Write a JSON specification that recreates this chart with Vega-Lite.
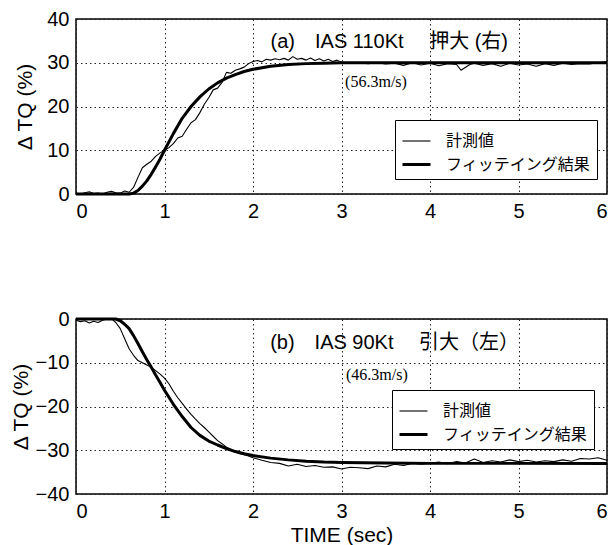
{
  "$schema": "https://vega.github.io/schema/vega-lite/v6.json",
  "padding": {"top": 8, "left": 9, "right": 4, "bottom": 0},
  "background": "white",
  "config": {
    "view": {"stroke": "black", "strokeWidth": 1.5},
    "axis": {
      "labelFont": "Liberation Sans", "labelFontSize": 20, "labelColor": "black",
      "titleFont": "Liberation Sans", "titleFontSize": 21, "titleColor": "black", "titleFontWeight": "normal",
      "ticks": false, "domain": false, "grid": true, "gridColor": "#222", "gridDash": [1.5, 3], "gridWidth": 1, "gridOpacity": 1,
      "labelPadding": 7, "format": "d"
    },
    "legend": {
      "orient": "none", "title": null, "symbolType": "stroke", "symbolStrokeColor": "black", "symbolSize": 784,
      "labelFont": "Noto Sans CJK JP", "labelFontSize": 16, "labelColor": "black", "labelOffset": 14,
      "strokeColor": "black", "fillColor": "white", "padding": 6, "rowPadding": -6
    }
  },
  "datasets": {
    "a": [
      {"t": 0.0, "v": 0.2, "s": "計測値"}, {"t": 0.05, "v": 0.0, "s": "計測値"}, {"t": 0.1, "v": 0.3, "s": "計測値"}, {"t": 0.15, "v": 0.5, "s": "計測値"},
      {"t": 0.2, "v": 0.1, "s": "計測値"}, {"t": 0.25, "v": 0.2, "s": "計測値"}, {"t": 0.3, "v": 0.0, "s": "計測値"}, {"t": 0.35, "v": 0.4, "s": "計測値"},
      {"t": 0.4, "v": 0.6, "s": "計測値"}, {"t": 0.45, "v": 0.3, "s": "計測値"}, {"t": 0.5, "v": 0.2, "s": "計測値"}, {"t": 0.55, "v": 0.7, "s": "計測値"},
      {"t": 0.6, "v": 0.4, "s": "計測値"}, {"t": 0.65, "v": 1.5, "s": "計測値"}, {"t": 0.7, "v": 3.8, "s": "計測値"}, {"t": 0.75, "v": 6.0, "s": "計測値"},
      {"t": 0.8, "v": 6.8, "s": "計測値"}, {"t": 0.85, "v": 7.5, "s": "計測値"}, {"t": 0.9, "v": 8.6, "s": "計測値"}, {"t": 0.95, "v": 9.4, "s": "計測値"},
      {"t": 1.0, "v": 10.0, "s": "計測値"}, {"t": 1.05, "v": 10.6, "s": "計測値"}, {"t": 1.1, "v": 11.5, "s": "計測値"}, {"t": 1.15, "v": 12.8, "s": "計測値"},
      {"t": 1.2, "v": 13.2, "s": "計測値"}, {"t": 1.25, "v": 14.8, "s": "計測値"}, {"t": 1.3, "v": 16.3, "s": "計測値"}, {"t": 1.35, "v": 17.0, "s": "計測値"},
      {"t": 1.4, "v": 18.6, "s": "計測値"}, {"t": 1.45, "v": 20.5, "s": "計測値"}, {"t": 1.5, "v": 22.0, "s": "計測値"}, {"t": 1.55, "v": 23.8, "s": "計測値"},
      {"t": 1.6, "v": 24.2, "s": "計測値"}, {"t": 1.65, "v": 25.5, "s": "計測値"}, {"t": 1.7, "v": 27.8, "s": "計測値"}, {"t": 1.75, "v": 27.6, "s": "計測値"},
      {"t": 1.8, "v": 28.3, "s": "計測値"}, {"t": 1.85, "v": 28.6, "s": "計測値"}, {"t": 1.9, "v": 29.0, "s": "計測値"}, {"t": 1.95, "v": 29.8, "s": "計測値"},
      {"t": 2.0, "v": 30.3, "s": "計測値"}, {"t": 2.05, "v": 30.5, "s": "計測値"}, {"t": 2.1, "v": 30.2, "s": "計測値"}, {"t": 2.15, "v": 30.8, "s": "計測値"},
      {"t": 2.2, "v": 30.6, "s": "計測値"}, {"t": 2.25, "v": 30.9, "s": "計測値"}, {"t": 2.3, "v": 30.7, "s": "計測値"}, {"t": 2.35, "v": 31.0, "s": "計測値"},
      {"t": 2.4, "v": 30.6, "s": "計測値"}, {"t": 2.45, "v": 31.4, "s": "計測値"}, {"t": 2.5, "v": 30.8, "s": "計測値"}, {"t": 2.55, "v": 31.0, "s": "計測値"},
      {"t": 2.6, "v": 30.6, "s": "計測値"}, {"t": 2.65, "v": 31.1, "s": "計測値"}, {"t": 2.7, "v": 30.5, "s": "計測値"}, {"t": 2.75, "v": 30.9, "s": "計測値"},
      {"t": 2.8, "v": 30.4, "s": "計測値"}, {"t": 2.85, "v": 30.8, "s": "計測値"}, {"t": 2.9, "v": 30.3, "s": "計測値"}, {"t": 2.95, "v": 30.6, "s": "計測値"},
      {"t": 3.0, "v": 30.1, "s": "計測値"}, {"t": 3.1, "v": 29.9, "s": "計測値"}, {"t": 3.2, "v": 30.0, "s": "計測値"}, {"t": 3.3, "v": 29.8, "s": "計測値"},
      {"t": 3.4, "v": 30.0, "s": "計測値"}, {"t": 3.5, "v": 29.7, "s": "計測値"}, {"t": 3.6, "v": 29.9, "s": "計測値"}, {"t": 3.7, "v": 29.4, "s": "計測値"},
      {"t": 3.8, "v": 30.0, "s": "計測値"}, {"t": 3.9, "v": 29.5, "s": "計測値"}, {"t": 4.0, "v": 29.9, "s": "計測値"}, {"t": 4.1, "v": 29.3, "s": "計測値"},
      {"t": 4.2, "v": 29.8, "s": "計測値"}, {"t": 4.3, "v": 29.6, "s": "計測値"}, {"t": 4.35, "v": 28.3, "s": "計測値"}, {"t": 4.45, "v": 29.6, "s": "計測値"},
      {"t": 4.5, "v": 29.9, "s": "計測値"}, {"t": 4.6, "v": 29.4, "s": "計測値"}, {"t": 4.7, "v": 29.8, "s": "計測値"}, {"t": 4.8, "v": 29.2, "s": "計測値"},
      {"t": 4.9, "v": 29.9, "s": "計測値"}, {"t": 5.0, "v": 29.5, "s": "計測値"}, {"t": 5.1, "v": 29.7, "s": "計測値"}, {"t": 5.2, "v": 29.2, "s": "計測値"},
      {"t": 5.3, "v": 29.8, "s": "計測値"}, {"t": 5.4, "v": 29.4, "s": "計測値"}, {"t": 5.5, "v": 29.9, "s": "計測値"}, {"t": 5.6, "v": 29.6, "s": "計測値"},
      {"t": 5.7, "v": 29.8, "s": "計測値"}, {"t": 5.8, "v": 29.7, "s": "計測値"}, {"t": 5.9, "v": 30.0, "s": "計測値"}, {"t": 6.0, "v": 30.2, "s": "計測値"},
      {"t": 0.0, "v": 0.0, "s": "フィッテイング結果"}, {"t": 0.6, "v": 0.0, "s": "フィッテイング結果"}, {"t": 0.65, "v": 0.2, "s": "フィッテイング結果"},
      {"t": 0.7, "v": 0.8, "s": "フィッテイング結果"}, {"t": 0.75, "v": 1.8, "s": "フィッテイング結果"}, {"t": 0.8, "v": 3.0, "s": "フィッテイング結果"},
      {"t": 0.85, "v": 4.5, "s": "フィッテイング結果"}, {"t": 0.9, "v": 6.2, "s": "フィッテイング結果"}, {"t": 0.95, "v": 8.0, "s": "フィッテイング結果"},
      {"t": 1.0, "v": 10.0, "s": "フィッテイング結果"}, {"t": 1.1, "v": 13.8, "s": "フィッテイング結果"}, {"t": 1.2, "v": 17.3, "s": "フィッテイング結果"},
      {"t": 1.3, "v": 20.0, "s": "フィッテイング結果"}, {"t": 1.4, "v": 22.2, "s": "フィッテイング結果"}, {"t": 1.5, "v": 24.0, "s": "フィッテイング結果"},
      {"t": 1.6, "v": 25.4, "s": "フィッテイング結果"}, {"t": 1.7, "v": 26.5, "s": "フィッテイング結果"}, {"t": 1.8, "v": 27.3, "s": "フィッテイング結果"},
      {"t": 1.9, "v": 28.0, "s": "フィッテイング結果"}, {"t": 2.0, "v": 28.5, "s": "フィッテイング結果"}, {"t": 2.2, "v": 29.2, "s": "フィッテイング結果"},
      {"t": 2.4, "v": 29.6, "s": "フィッテイング結果"}, {"t": 2.6, "v": 29.8, "s": "フィッテイング結果"}, {"t": 2.8, "v": 29.9, "s": "フィッテイング結果"},
      {"t": 3.0, "v": 30.0, "s": "フィッテイング結果"}, {"t": 4.0, "v": 30.0, "s": "フィッテイング結果"}, {"t": 5.0, "v": 30.0, "s": "フィッテイング結果"},
      {"t": 6.0, "v": 30.0, "s": "フィッテイング結果"}
    ],
    "b": [
      {"t": 0.0, "v": -0.3, "s": "計測値"}, {"t": 0.05, "v": -0.6, "s": "計測値"}, {"t": 0.1, "v": -0.4, "s": "計測値"}, {"t": 0.15, "v": -0.9, "s": "計測値"},
      {"t": 0.2, "v": -0.5, "s": "計測値"}, {"t": 0.25, "v": -0.8, "s": "計測値"}, {"t": 0.3, "v": -0.3, "s": "計測値"}, {"t": 0.35, "v": 0.0, "s": "計測値"},
      {"t": 0.4, "v": 0.1, "s": "計測値"}, {"t": 0.45, "v": -0.8, "s": "計測値"}, {"t": 0.5, "v": -2.2, "s": "計測値"}, {"t": 0.55, "v": -4.5, "s": "計測値"},
      {"t": 0.6, "v": -6.8, "s": "計測値"}, {"t": 0.65, "v": -8.3, "s": "計測値"}, {"t": 0.7, "v": -9.5, "s": "計測値"}, {"t": 0.75, "v": -10.0, "s": "計測値"},
      {"t": 0.8, "v": -10.5, "s": "計測値"}, {"t": 0.85, "v": -11.0, "s": "計測値"}, {"t": 0.9, "v": -11.8, "s": "計測値"}, {"t": 0.95, "v": -12.6, "s": "計測値"},
      {"t": 1.0, "v": -13.5, "s": "計測値"}, {"t": 1.05, "v": -14.8, "s": "計測値"}, {"t": 1.1, "v": -16.5, "s": "計測値"}, {"t": 1.15, "v": -18.0, "s": "計測値"},
      {"t": 1.2, "v": -19.3, "s": "計測値"}, {"t": 1.25, "v": -20.6, "s": "計測値"}, {"t": 1.3, "v": -21.8, "s": "計測値"}, {"t": 1.35, "v": -22.9, "s": "計測値"},
      {"t": 1.4, "v": -23.9, "s": "計測値"}, {"t": 1.45, "v": -24.8, "s": "計測値"}, {"t": 1.5, "v": -25.8, "s": "計測値"}, {"t": 1.55, "v": -26.8, "s": "計測値"},
      {"t": 1.6, "v": -27.8, "s": "計測値"}, {"t": 1.65, "v": -28.5, "s": "計測値"}, {"t": 1.7, "v": -29.3, "s": "計測値"}, {"t": 1.75, "v": -29.9, "s": "計測値"},
      {"t": 1.8, "v": -30.3, "s": "計測値"}, {"t": 1.85, "v": -30.8, "s": "計測値"}, {"t": 1.9, "v": -31.0, "s": "計測値"}, {"t": 1.95, "v": -31.3, "s": "計測値"},
      {"t": 2.0, "v": -31.7, "s": "計測値"}, {"t": 2.1, "v": -32.3, "s": "計測値"}, {"t": 2.2, "v": -32.8, "s": "計測値"}, {"t": 2.3, "v": -33.0, "s": "計測値"},
      {"t": 2.4, "v": -33.6, "s": "計測値"}, {"t": 2.5, "v": -33.2, "s": "計測値"}, {"t": 2.6, "v": -33.7, "s": "計測値"}, {"t": 2.7, "v": -33.5, "s": "計測値"},
      {"t": 2.8, "v": -33.9, "s": "計測値"}, {"t": 2.9, "v": -33.8, "s": "計測値"}, {"t": 3.0, "v": -34.3, "s": "計測値"}, {"t": 3.1, "v": -33.9, "s": "計測値"},
      {"t": 3.2, "v": -34.0, "s": "計測値"}, {"t": 3.3, "v": -34.2, "s": "計測値"}, {"t": 3.4, "v": -33.6, "s": "計測値"}, {"t": 3.5, "v": -33.8, "s": "計測値"},
      {"t": 3.6, "v": -33.2, "s": "計測値"}, {"t": 3.7, "v": -33.5, "s": "計測値"}, {"t": 3.8, "v": -33.0, "s": "計測値"}, {"t": 3.9, "v": -33.2, "s": "計測値"},
      {"t": 4.0, "v": -33.0, "s": "計測値"}, {"t": 4.1, "v": -32.7, "s": "計測値"}, {"t": 4.2, "v": -33.1, "s": "計測値"}, {"t": 4.3, "v": -32.6, "s": "計測値"},
      {"t": 4.4, "v": -32.9, "s": "計測値"}, {"t": 4.5, "v": -32.0, "s": "計測値"}, {"t": 4.6, "v": -32.8, "s": "計測値"}, {"t": 4.7, "v": -32.4, "s": "計測値"},
      {"t": 4.8, "v": -32.7, "s": "計測値"}, {"t": 4.9, "v": -32.2, "s": "計測値"}, {"t": 5.0, "v": -32.6, "s": "計測値"}, {"t": 5.1, "v": -32.3, "s": "計測値"},
      {"t": 5.2, "v": -32.7, "s": "計測値"}, {"t": 5.3, "v": -32.4, "s": "計測値"}, {"t": 5.4, "v": -32.6, "s": "計測値"}, {"t": 5.5, "v": -32.2, "s": "計測値"},
      {"t": 5.6, "v": -32.5, "s": "計測値"}, {"t": 5.7, "v": -31.9, "s": "計測値"}, {"t": 5.8, "v": -32.0, "s": "計測値"}, {"t": 5.9, "v": -31.7, "s": "計測値"},
      {"t": 6.0, "v": -32.3, "s": "計測値"},
      {"t": 0.0, "v": 0.0, "s": "フィッテイング結果"}, {"t": 0.45, "v": 0.0, "s": "フィッテイング結果"}, {"t": 0.5, "v": -0.4, "s": "フィッテイング結果"},
      {"t": 0.55, "v": -1.2, "s": "フィッテイング結果"}, {"t": 0.6, "v": -2.2, "s": "フィッテイング結果"}, {"t": 0.65, "v": -3.8, "s": "フィッテイング結果"},
      {"t": 0.7, "v": -5.6, "s": "フィッテイング結果"}, {"t": 0.75, "v": -7.5, "s": "フィッテイング結果"}, {"t": 0.8, "v": -9.3, "s": "フィッテイング結果"},
      {"t": 0.85, "v": -11.0, "s": "フィッテイング結果"}, {"t": 0.9, "v": -12.8, "s": "フィッテイング結果"}, {"t": 0.95, "v": -14.5, "s": "フィッテイング結果"},
      {"t": 1.0, "v": -16.3, "s": "フィッテイング結果"}, {"t": 1.1, "v": -19.5, "s": "フィッテイング結果"}, {"t": 1.2, "v": -22.3, "s": "フィッテイング結果"},
      {"t": 1.3, "v": -24.8, "s": "フィッテイング結果"}, {"t": 1.4, "v": -26.6, "s": "フィッテイング結果"}, {"t": 1.5, "v": -27.9, "s": "フィッテイング結果"},
      {"t": 1.6, "v": -28.8, "s": "フィッテイング結果"}, {"t": 1.7, "v": -29.6, "s": "フィッテイング結果"}, {"t": 1.8, "v": -30.3, "s": "フィッテイング結果"},
      {"t": 1.9, "v": -30.8, "s": "フィッテイング結果"}, {"t": 2.0, "v": -31.2, "s": "フィッテイング結果"}, {"t": 2.2, "v": -31.8, "s": "フィッテイング結果"},
      {"t": 2.4, "v": -32.2, "s": "フィッテイング結果"}, {"t": 2.6, "v": -32.5, "s": "フィッテイング結果"}, {"t": 2.8, "v": -32.7, "s": "フィッテイング結果"},
      {"t": 3.0, "v": -32.8, "s": "フィッテイング結果"}, {"t": 3.5, "v": -32.9, "s": "フィッテイング結果"}, {"t": 4.0, "v": -33.0, "s": "フィッテイング結果"},
      {"t": 6.0, "v": -33.0, "s": "フィッテイング結果"}
    ]
  },
  "resolve": {"scale": {"strokeWidth": "independent"}, "legend": {"strokeWidth": "independent"}},
  "spacing": 125,
  "bounds": "flush",
  "vconcat": [
    {
      "width": 531, "height": 175,
      "layer": [
        {
          "data": {"name": "a"},
          "mark": {"type": "line", "color": "black", "strokeJoin": "round"},
          "encoding": {
            "x": {"field": "t", "type": "quantitative", "scale": {"domain": [0, 6], "nice": false}, "axis": {"values": [0, 1, 2, 3, 4, 5, 6], "title": null}},
            "y": {"field": "v", "type": "quantitative", "scale": {"domain": [0, 40], "nice": false}, "axis": {"values": [0, 10, 20, 30, 40], "title": "Δ TQ (%)", "titlePadding": 11}},
            "strokeWidth": {"field": "s", "type": "ordinal", "scale": {"domain": ["計測値", "フィッテイング結果"], "range": [1.1, 3]}, "legend": {"legendX": 319, "legendY": 101}}
          }
        },
        {
          "data": {"values": [{"t": 3.54, "v": 34.7, "label": "(a)　IAS 110Kt　 押大 (右)"}]},
          "mark": {"type": "text", "font": "Liberation Sans, Noto Sans CJK JP", "fontSize": 20, "align": "center", "baseline": "middle", "color": "black"},
          "encoding": {"x": {"field": "t", "type": "quantitative"}, "y": {"field": "v", "type": "quantitative"}, "text": {"field": "label"}}
        },
        {
          "data": {"values": [{"t": 3.39, "v": 25.6, "label": "(56.3m/s)"}]},
          "mark": {"type": "text", "font": "Liberation Serif", "fontSize": 16, "align": "center", "baseline": "middle", "color": "black"},
          "encoding": {"x": {"field": "t", "type": "quantitative"}, "y": {"field": "v", "type": "quantitative"}, "text": {"field": "label"}}
        }
      ]
    },
    {
      "width": 531, "height": 175,
      "layer": [
        {
          "data": {"name": "b"},
          "mark": {"type": "line", "color": "black", "strokeJoin": "round"},
          "encoding": {
            "x": {"field": "t", "type": "quantitative", "scale": {"domain": [0, 6], "nice": false}, "axis": {"values": [0, 1, 2, 3, 4, 5, 6], "title": "TIME (sec)", "titlePadding": 3}},
            "y": {"field": "v", "type": "quantitative", "scale": {"domain": [-40, 0], "nice": false}, "axis": {"values": [-40, -30, -20, -10, 0], "title": "Δ TQ (%)", "titlePadding": 4}},
            "strokeWidth": {"field": "s", "type": "ordinal", "scale": {"domain": ["計測値", "フィッテイング結果"], "range": [1.1, 3]}, "legend": {"legendX": 316, "legendY": 71}}
          }
        },
        {
          "data": {"values": [{"t": 3.60, "v": -5.5, "label": "(b)　IAS 90Kt　 引大（左）"}]},
          "mark": {"type": "text", "font": "Liberation Sans, Noto Sans CJK JP", "fontSize": 20, "align": "center", "baseline": "middle", "color": "black"},
          "encoding": {"x": {"field": "t", "type": "quantitative"}, "y": {"field": "v", "type": "quantitative"}, "text": {"field": "label"}}
        },
        {
          "data": {"values": [{"t": 3.40, "v": -12.8, "label": "(46.3m/s)"}]},
          "mark": {"type": "text", "font": "Liberation Serif", "fontSize": 16, "align": "center", "baseline": "middle", "color": "black"},
          "encoding": {"x": {"field": "t", "type": "quantitative"}, "y": {"field": "v", "type": "quantitative"}, "text": {"field": "label"}}
        }
      ]
    }
  ]
}
